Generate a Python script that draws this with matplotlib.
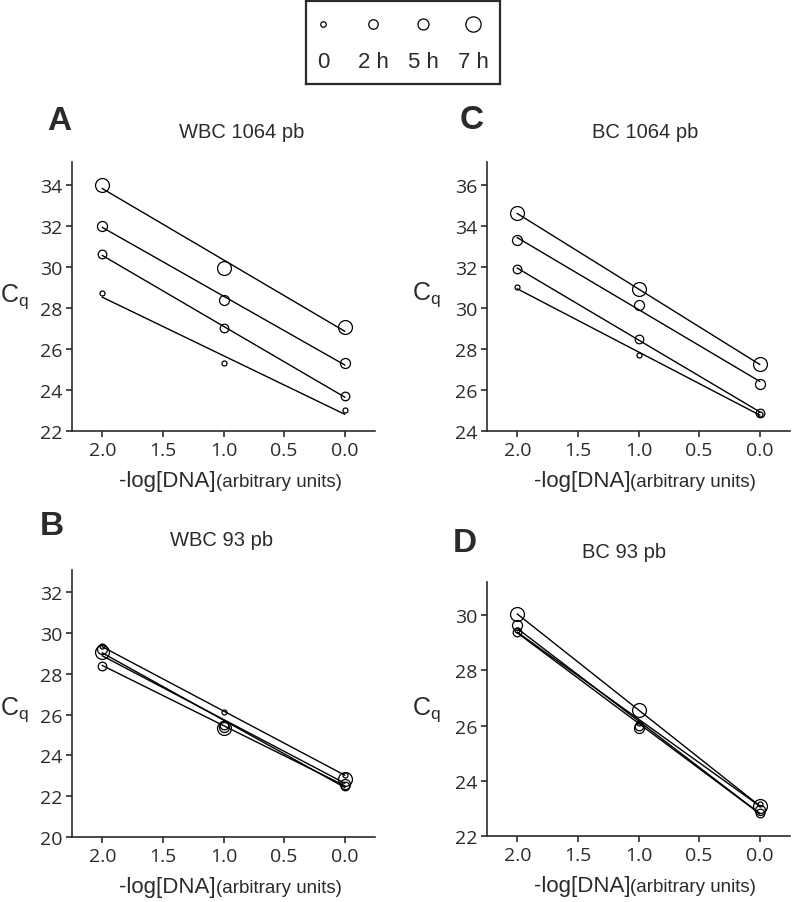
import numpy as np
import matplotlib.pyplot as plt

# dilution points, -log[DNA]
X_DNA = [2.0, 1.0, 0.0]
TIMES = ["0", "2 h", "5 h", "7 h"]

# Cq values per time point (rows: 0, 2 h, 5 h, 7 h)
CQ_A = [[28.7, 25.3, 23.0],
        [30.6, 27.0, 23.7],
        [32.0, 28.4, 25.3],
        [34.0, 29.95, 27.05]]
CQ_C = [[31.0, 27.7, 24.85],
        [31.9, 28.5, 24.9],
        [33.3, 30.15, 26.3],
        [34.6, 30.9, 27.25]]
CQ_B = [[29.35, 26.15, 23.05],
        [28.4, 25.5, 22.5],
        [29.2, 25.4, 22.6],
        [29.1, 25.35, 22.85]]
CQ_D = [[29.45, 26.1, 23.15],
        [29.4, 26.0, 22.85],
        [29.65, 25.9, 22.95],
        [30.05, 26.55, 23.1]]

PANELS = ["A", "C", "B", "D"]
TITLES = ["WBC 1064 pb", "BC 1064 pb", "WBC 93 pb", "BC 93 pb"]
YLIMS = [(22, 35.1), (24, 37.1), (20, 33.1), (22, 31.2)]
YTICKS = [np.arange(22, 35, 2), np.arange(24, 37, 2), np.arange(20, 33, 2), np.arange(22, 31, 2)]
XTICKS = [2.0, 1.5, 1.0, 0.5, 0.0]

MS = [3.6, 6.2, 7.2, 10.0]
DARK = "#2b2b2b"
W, H = 792, 903

plt.rcParams["font.family"] = ["Liberation Sans", "DejaVu Sans"]
plt.rcParams["mathtext.fontset"] = "custom"
plt.rcParams["mathtext.rm"] = "Liberation Sans"

fig = plt.figure(figsize=(W / 100, H / 100), dpi=100)


def px_axes(left, top, right, bottom):
    return fig.add_axes([left / W, 1 - bottom / H, (right - left) / W, (bottom - top) / H])


# axes boxes in pixels: left, top, right, bottom
boxes = [(72, 163, 375, 432), (487, 163, 790, 432),
         (72, 571, 375, 838), (487, 583, 790, 837)]
letter_pos = [(59, 122), (472, 121), (52, 527), (465, 543)]
title_pos = [(242, 133), (645, 133), (222, 541), (624, 553)]
cq_pos = [(14, 297), (426, 295), (14, 710), (426, 710)]
data = [CQ_A, CQ_C, CQ_B, CQ_D]

for k, (box, cq) in enumerate(zip(boxes, data)):
    ax = px_axes(*box)
    for i, row in enumerate(cq):
        slope, icpt = np.polyfit(X_DNA, row, 1)
        xs = np.array([X_DNA[0], X_DNA[-1]])
        ax.plot(xs, slope * xs + icpt, color="black", lw=1.0, zorder=2)
        ax.plot(X_DNA, row, "o", ms=MS[i], mfc="none", mec="black",
                mew=0.9, zorder=3)
    ax.set_xlim(2.25, -0.25)
    ax.set_ylim(*YLIMS[k])
    ax.set_xticks(XTICKS)
    ax.set_xticklabels([f"{t:.1f}" for t in XTICKS])
    ax.set_yticks(YTICKS[k])
    for s in ["top", "right"]:
        ax.spines[s].set_visible(False)
    for s in ["left", "bottom"]:
        ax.spines[s].set_color(DARK)
        ax.spines[s].set_linewidth(1.2)
    ax.tick_params(direction="out", length=4, width=1.2, color=DARK,
                   labelcolor=DARK, labelsize=14, pad=3)
    for lab in ax.get_xticklabels() + ax.get_yticklabels():
        lab.set_family("Open Sans")

    l, t, r, b = box
    mid = (l + r) / 2 - 8
    fig.text(mid / W, 1 - (b + 55) / H, "-log[DNA]", ha="right",
             va="baseline", fontsize=16, color=DARK)
    fig.text(mid / W, 1 - (b + 55) / H, "(arbitrary units)", ha="left",
             va="baseline", fontsize=13.5, color=DARK)

    lx, ly = letter_pos[k]
    fig.text(lx / W, 1 - ly / H, PANELS[k], ha="center", va="center",
             fontsize=24, fontweight="bold", color=DARK)
    tx, ty = title_pos[k]
    fig.text(tx / W, 1 - ty / H, TITLES[k], ha="center", va="center",
             fontsize=14.5, color=DARK)
    cx, cy = cq_pos[k]
    fig.text(cx / W, 1 - cy / H, r"$\mathregular{C_q}$", ha="center",
             va="center", fontsize=18, color=DARK)

# legend box
lax = px_axes(306, 2, 500, 85)
lpos = np.arange(len(TIMES))
for i, name in enumerate(TIMES):
    lax.plot(lpos[i], 0.72, "o", ms=MS[i] * 1.1, mfc="none", mec="black", mew=0.9)
    lax.text(lpos[i], 0.27, name, ha="center", va="center", fontsize=16, color=DARK)
lax.set_xlim(-0.34, 3.54)
lax.set_ylim(0, 1)
lax.set_xticks([])
lax.set_yticks([])
for s in lax.spines.values():
    s.set_linewidth(1.6)
    s.set_color(DARK)

fig.savefig("out.png", dpi=100)
